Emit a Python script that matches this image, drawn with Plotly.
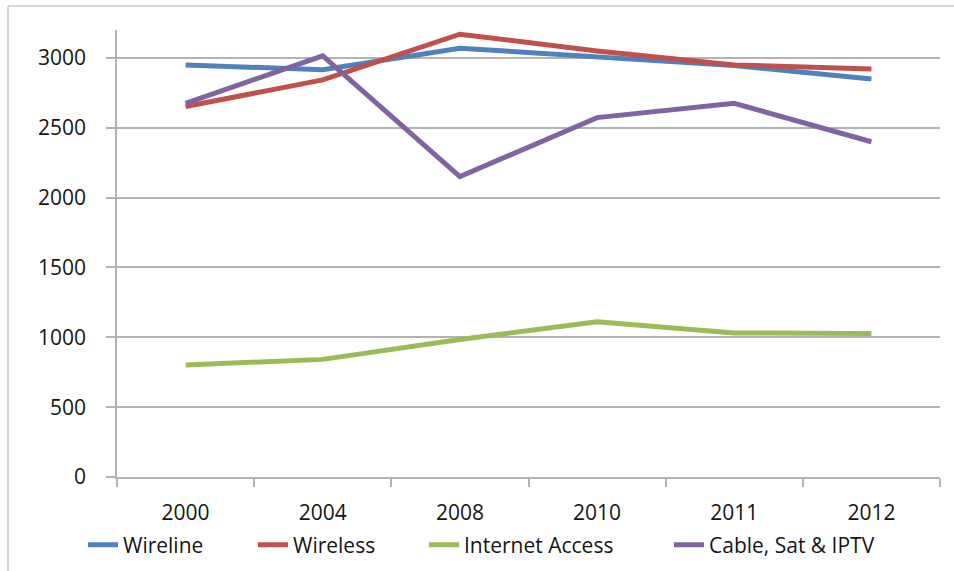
import plotly.graph_objects as go

# Categories and series values
years = ["2000", "2004", "2008", "2010", "2011", "2012"]
wireline = [2950, 2915, 3070, 3008, 2945, 2850]
wireless = [2652, 2843, 3170, 3050, 2950, 2921]
internet_access = [802, 842, 985, 1112, 1031, 1027]
cable_sat_iptv = [2675, 3015, 2150, 2573, 2675, 2400]

series_names = ["Wireline", "Wireless", "Internet Access", "Cable, Sat & IPTV"]
series_values = [wireline, wireless, internet_access, cable_sat_iptv]
series_colors = ["#4F81BD", "#C0504D", "#9BBB59", "#8064A2"]

W, H = 954, 571
ML, MR, MT, MB = 117, 14, 30, 94
PW, PH = W - ML - MR, H - MT - MB
FONT = "Open Sans"
FS = 21
TXT = "#151515"
GRID = "#B3B3B3"

def px_x(p):
    return (p - ML) / PW

def px_y(p):
    return (H - MB - p) / PH

# left edge (px) of each legend entry along the bottom row
legend_left = [86, 256, 427, 672]
legend_ids = ["legend", "legend2", "legend3", "legend4"]

fig = go.Figure()
for name, vals, color, lid in zip(series_names, series_values, series_colors, legend_ids):
    fig.add_trace(go.Scatter(
        x=years, y=vals, name=name, mode="lines",
        line=dict(color=color, width=5),
        legend=lid,
    ))

legend_layout = {}
for lid, left in zip(legend_ids, legend_left):
    legend_layout[lid] = dict(
        orientation="h", x=px_x(left - 3), xanchor="left",
        y=px_y(545), yanchor="middle",
        font=dict(family=FONT, size=FS, color=TXT),
        bgcolor="rgba(0,0,0,0)", borderwidth=0,
        itemwidth=30,
    )

# outer chart frame (top and left edges)
fig.add_shape(type="line", xref="paper", yref="paper",
              x0=px_x(8), x1=px_x(W + 5), y0=px_y(6), y1=px_y(6),
              line=dict(color="#C8C8C8", width=1.5))
fig.add_shape(type="line", xref="paper", yref="paper",
              x0=px_x(8), x1=px_x(8), y0=px_y(6), y1=px_y(H + 5),
              line=dict(color="#C8C8C8", width=1.5))

fig.update_layout(
    width=W, height=H,
    margin=dict(l=ML, r=MR, t=MT, b=MB, autoexpand=False),
    paper_bgcolor="white", plot_bgcolor="white",
    font=dict(family=FONT, size=FS, color=TXT),
    showlegend=True,
    xaxis=dict(
        type="category", tickson="boundaries",
        showgrid=False, showline=True, linecolor=GRID, linewidth=1.5,
        ticks="outside", ticklen=8, tickcolor=GRID, tickwidth=1.5,
        tickfont=dict(family=FONT, size=FS, color=TXT),
        ticklabelstandoff=16,
        range=[-0.5, len(years) - 0.5],
    ),
    yaxis=dict(
        range=[0, 3200], tickvals=[0, 500, 1000, 1500, 2000, 2500, 3000],
        showgrid=True, gridcolor=GRID, gridwidth=1.5,
        showline=True, linecolor=GRID, linewidth=1.5,
        ticks="outside", ticklen=9, tickcolor=GRID, tickwidth=1.5,
        tickfont=dict(family=FONT, size=FS, color=TXT), ticklabelstandoff=16,
        zeroline=False,
    ),
    **legend_layout,
)

fig.write_html("out.html")
